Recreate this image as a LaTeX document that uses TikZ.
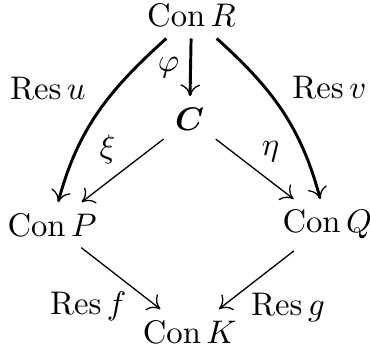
\documentclass[tikz,border=0pt]{standalone}
\usepackage{amsmath}
\usepackage{tikz}
\usetikzlibrary{arrows.meta}
\tikzset{
  heavy/.style={line width=0.9pt},
  light/.style={line width=0.4pt},
  lab/.style={inner sep=2pt}
}

\begin{document}
\begin{tikzpicture}[x=1cm,y=1cm,>={Computer Modern Rightarrow[line width=0.4pt 0,length=3.6pt,width=6pt]}]
    \useasboundingbox (0,0) rectangle (3.98,3.79);

    % objects
    \node (conR) at (2.06,3.62) {$\operatorname{Con} R$};
    \node (cat)  at (2.04,2.51) {$\boldsymbol{C}$};
    \node (conP) at (0.56,1.37) {$\operatorname{Con} P$};
    \node (conQ) at (3.52,1.37) {$\operatorname{Con} Q$};
    \node (conK) at (2.04,0.22) {$\operatorname{Con} K$};

    % maps
    \draw[->,heavy] (conR) -- node[lab,left=1pt,pos=0.5] (phi) {$\varphi$} (cat);
    \draw[->,heavy] (conR) to[out=222,in=75] node[lab,left=7pt,pos=0.34] (resu) {$\operatorname{Res} u$} (conP);
    \draw[->,heavy] (conR) to[out=-42,in=105] node[lab,right=6pt,pos=0.34] (resv) {$\operatorname{Res} v$} (conQ);
    \draw[->,light] (cat) -- node[lab,above left,pos=0.5] (xi) {$\xi$} (conP);
    \draw[->,light] (cat) -- node[lab,above right,pos=0.5] (eta) {$\eta$} (conQ);
    \draw[->,light] (conP) -- node[lab,below left,pos=0.6,xshift=1.5pt] (resf) {$\operatorname{Res} f$} (conK);
    \draw[->,light] (conQ) -- node[lab,below right,pos=0.6,xshift=-1.5pt] (resg) {$\operatorname{Res} g$} (conK);
  \end{tikzpicture}
\end{document}
